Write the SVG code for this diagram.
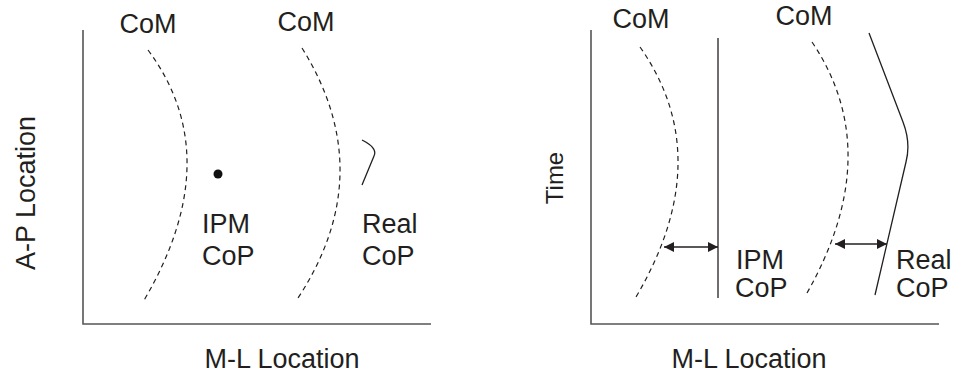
<svg xmlns="http://www.w3.org/2000/svg" width="957" height="376" viewBox="0 0 957 376">
<style>
text{font-family:"Liberation Sans",Arial,sans-serif;font-size:27px;fill:#231f20}
.axis{stroke:#555;stroke-width:1.6;fill:none}
.dash{stroke:#231f20;stroke-width:1.2;fill:none;stroke-dasharray:5 4}
.solid{stroke:#231f20;stroke-width:1.3;fill:none}
.arr{stroke:#231f20;stroke-width:1.3;fill:none;marker-start:url(#ah);marker-end:url(#ah)}
</style>
<defs>
<marker id="ah" viewBox="0 0 10 10" refX="10" refY="5" markerWidth="10" markerHeight="10" markerUnits="userSpaceOnUse" orient="auto-start-reverse">
<path d="M0,0 L10,5 L0,10 Z" fill="#231f20"/>
</marker>
</defs>
<rect width="957" height="376" fill="#fff"/>
<g id="left-plot">
<g id="left-axes">
<path class="axis" d="M83,30 V324 H431"/>
<text transform="translate(35,193) rotate(-90)" text-anchor="middle">A-P Location</text>
<text x="282" y="368" text-anchor="middle">M-L Location</text>
</g>
<g id="left-com1">
<path class="dash" d="M148,50 Q228.5,158 143,302"/>
<text x="148" y="33" text-anchor="middle">CoM</text>
</g>
<g id="left-com2">
<path class="dash" d="M302,48 Q380,173 298,298"/>
<text x="306" y="31" text-anchor="middle">CoM</text>
</g>
<g id="left-ipm">
<circle cx="218" cy="174" r="4.5" fill="#111"/>
<text x="202" y="233">IPM</text>
<text x="202" y="265">CoP</text>
</g>
<g id="left-real">
<path class="solid" d="M362,140 Q378,148 374,156 L362,185"/>
<text x="362" y="233">Real</text>
<text x="362" y="265">CoP</text>
</g>
</g>
<g id="right-plot">
<g id="right-axes">
<path class="axis" d="M591,30 V324 H939"/>
<text transform="translate(563,178) rotate(-90)" text-anchor="middle" style="font-size:24px">Time</text>
<text x="749" y="368" text-anchor="middle">M-L Location</text>
</g>
<g id="right-com1">
<path class="dash" d="M640,47 Q718,158 636,297"/>
<text x="641" y="28" text-anchor="middle">CoM</text>
</g>
<g id="right-ipm">
<line class="solid" x1="718" y1="38" x2="718" y2="298"/>
<text x="736" y="269">IPM</text>
<text x="735" y="297">CoP</text>
</g>
<g id="right-com2">
<path class="dash" d="M812,42 Q886.5,152.5 807,293"/>
<text x="804" y="25" text-anchor="middle">CoM</text>
</g>
<g id="right-real">
<path class="solid" d="M869,33 L903,122 Q911,143 906,162 L875,295"/>
<text x="896" y="269">Real</text>
<text x="896" y="297">CoP</text>
</g>
</g>
<g id="connectors">
<line class="arr" x1="664" y1="247" x2="718" y2="247"/>
<line class="arr" x1="835" y1="244" x2="887" y2="244"/>
</g>
</svg>
